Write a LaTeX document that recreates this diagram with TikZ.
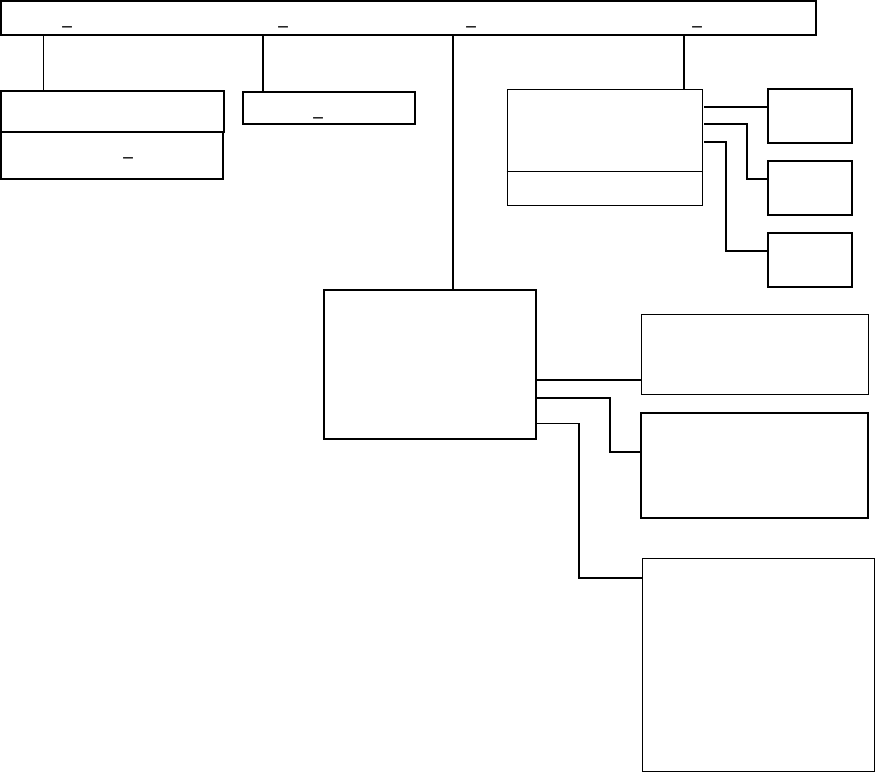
\documentclass[tikz,border=0pt]{standalone}
\usepackage{fontspec}
\newfontfamily\uscorefont{DejaVu Sans}
\usepackage{tikz}
\usetikzlibrary{positioning, calc}
\tikzset{
    tbox/.style={rectangle, draw=black, line width=1.6pt, inner sep=0pt,
                 minimum width=#1},
    thinbox/.style={rectangle, draw=black, line width=1pt, inner sep=0pt},
    uscore/.style={inner sep=0pt, font=\uscorefont\fontsize{19}{21}\selectfont},
    wire/.style={draw=black, line width=1.6pt},
    thinwire/.style={draw=black, line width=1pt}
}
\begin{document}
\begin{tikzpicture}[x=1pt, y=-1pt]
\useasboundingbox (0,0) rectangle (875,772);
% ── Top bar ───────────────────────────────────────────────────────────
\node[tbox=815pt, minimum height=34pt] at (408.5,18) (top) {};
\node[uscore] at (67,26)  (u1) {\_};
\node[uscore] at (283,26) (u2) {\_};
\node[uscore] at (471,26) (u3) {\_};
\node[uscore] at (697,26) (u4) {\_};

% ── Left stack ────────────────────────────────────────────────────────
\node[tbox=223pt, minimum height=41pt] at (112.5,111.5) (lb1) {};
\node[tbox=222pt, minimum height=47pt] at (112,155.5) (lb2) {};
\node[uscore] at (128,157) (u5) {\_};

% ── Middle box ────────────────────────────────────────────────────────
\node[tbox=172pt, minimum height=32pt] at (329,108) (mb) {};
\node[uscore] at (318,117) (u6) {\_};

% ── Right group ───────────────────────────────────────────────────────
\node[thinbox, minimum width=195pt, minimum height=116pt] at (604.5,147) (rt) {};
\draw[thinwire] (rt.west |- 0,171) -- (rt.east |- 0,171);
\node[tbox=84pt, minimum height=54pt] at (810,116) (sa) {};
\node[tbox=84pt, minimum height=54pt] at (810,188) (sb) {};
\node[tbox=84pt, minimum height=54pt] at (810,260) (sc) {};

% ── Centre and its children ───────────────────────────────────────────
\node[tbox=212pt, minimum height=149pt] at (430,364.5) (ctr) {};
\node[thinbox, minimum width=227pt, minimum height=80pt] at (754.5,354) (rb1) {};
\node[tbox=227pt, minimum height=105pt] at (754.5,465.5) (rb2) {};
\node[thinbox, minimum width=232pt, minimum height=213pt] at (758,664.5) (rb3) {};

% ── Taps on the top bar ───────────────────────────────────────────────
\coordinate (t1) at (43,35);
\coordinate (t2) at (263,35);
\coordinate (t3) at (453,35);
\coordinate (t4) at (684,35);
\draw[thinwire] (t1) -- (t1 |- lb1.north);
\draw[wire] (t2) -- (t2 |- mb.north);
\draw[wire] (t3) -- (t3 |- ctr.north);
\draw[wire] (t4) -- (t4 |- rt.north);

% ── Right group connectors ────────────────────────────────────────────
\coordinate (r1) at (704,107);
\coordinate (r2) at (704,124);
\coordinate (r3) at (704,142);
\draw[wire] (r1) -- (r1 -| sa.west);
\draw[wire] (r2) -- (747,124) -- (747,179) -- (sb.west |- 0,179);
\draw[wire] (r3) -- (726,142) -- (726,251) -- (sc.west |- 0,251);

% ── Centre connectors ─────────────────────────────────────────────────
\draw[wire] (ctr.east |- 0,380) -- (rb1.west |- 0,380);
\draw[wire] (ctr.east |- 0,398) -- (610,398) -- (610,452) -- (rb2.west |- 0,452);
\draw[thinwire] (ctr.east |- 0,423) -- (579,423);
\draw[wire] (579,423) -- (579,578) -- (rb3.west |- 0,578);
\end{tikzpicture}
\end{document}
